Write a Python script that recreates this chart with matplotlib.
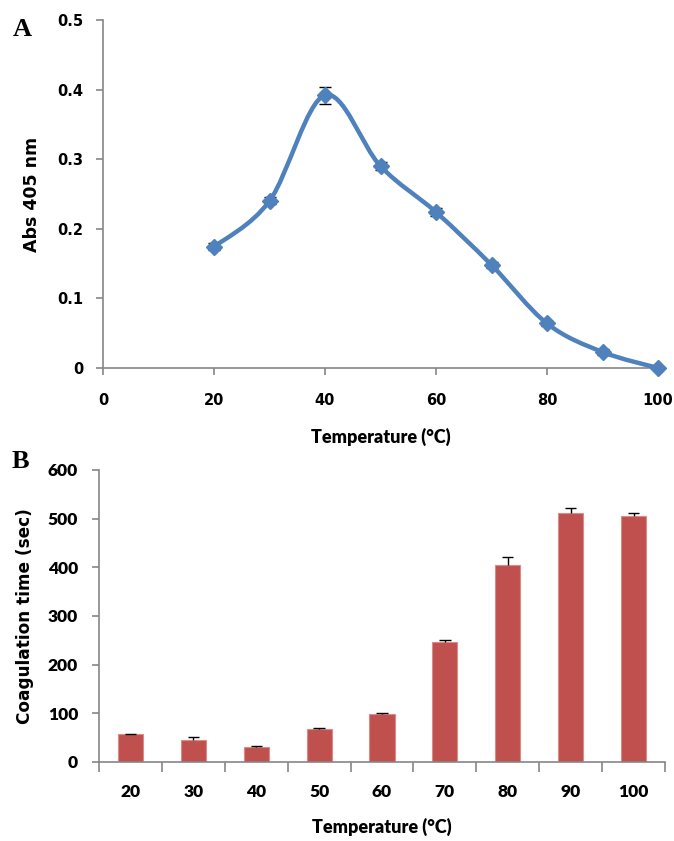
import numpy as np
import matplotlib
matplotlib.use("Agg")
import matplotlib.pyplot as plt
from matplotlib.path import Path
from matplotlib.patches import PathPatch

# Panel A: enzyme activity vs temperature
temp_a = [20, 30, 40, 50, 60, 70, 80, 90, 100]
abs405 = [0.174, 0.240, 0.392, 0.290, 0.224, 0.148, 0.064, 0.023, 0.0]
abs_err = [0.005, 0.005, 0.012, 0.006, 0.006, 0.005, 0.004, 0.004, 0.003]

# Panel B: coagulation time vs temperature
temp_b = ["20", "30", "40", "50", "60", "70", "80", "90", "100"]
coag = [57, 46, 31, 68, 99, 246, 404, 511, 505]
coag_err = [1, 5, 2, 1, 2, 4, 17, 11, 7]
coag_ticks = [0, 100, 200, 300, 400, 500, 600]

LINE_BLUE = "#4F81BD"
BAR_RED = "#C0504D"
AXIS_GRAY = "#868686"

fig = plt.figure(figsize=(6.74, 8.41), dpi=100)


def style_axes(ax):
    for s in ("top", "right"):
        ax.spines[s].set_visible(False)
    for s in ("left", "bottom"):
        ax.spines[s].set_color(AXIS_GRAY)
        ax.spines[s].set_linewidth(1.2)
    ax.tick_params(direction="out", color=AXIS_GRAY, width=1.2, length=5)


def smooth_path(xs, ys, tension=1 / 6):
    """Cubic Bezier path through the points (Catmull-Rom style smoothing)."""
    pts = np.column_stack([xs, ys]).astype(float)
    n = len(pts)
    verts = [pts[0]]
    codes = [Path.MOVETO]
    for i in range(n - 1):
        p0 = pts[i - 1] if i > 0 else pts[i]
        p1 = pts[i]
        p2 = pts[i + 1]
        p3 = pts[i + 2] if i + 2 < n else pts[i + 1]
        c1 = p1 + (p2 - p0) * tension
        c2 = p2 - (p3 - p1) * tension
        verts += [c1, c2, p2]
        codes += [Path.CURVE4] * 3
    return Path(verts, codes)


# ---------------- Panel A ----------------
axA = fig.add_axes([103 / 674, 1 - 368 / 841, 555 / 674, 348 / 841])
style_axes(axA)
axA.tick_params(axis="x", pad=13)
axA.tick_params(axis="y", pad=9)
axA.set_xlim(0, 100)
axA.set_ylim(0, 0.5)
tick_font_a = dict(fontfamily="DejaVu Sans", fontweight="bold", fontsize=10.5)
axA.set_xticks([0, 20, 40, 60, 80, 100])
axA.set_xticklabels(["0", "20", "40", "60", "80", "100"], **tick_font_a)
axA.set_yticks([0, 0.1, 0.2, 0.3, 0.4, 0.5])
axA.set_yticklabels(["0", "0.1", "0.2", "0.3", "0.4", "0.5"], **tick_font_a)

curve = PathPatch(smooth_path(temp_a, abs405), facecolor="none",
                  edgecolor=LINE_BLUE, linewidth=3.2, capstyle="round",
                  joinstyle="round", zorder=3)
axA.add_patch(curve)
axA.errorbar(temp_a, abs405, yerr=abs_err, fmt="none", ecolor="black",
             elinewidth=1.0, capsize=4, capthick=1.0, zorder=2)
axA.plot(temp_a, abs405, linestyle="none", marker="D", markersize=8,
         color=LINE_BLUE, zorder=4, clip_on=False)

axA.set_xlabel("Temperature (°C)", fontfamily="Lato", fontweight="heavy",
               fontsize=13, labelpad=14)
axA.set_ylabel("Abs 405 nm", fontfamily="DejaVu Sans", fontweight="bold",
               fontsize=12.5, labelpad=12)
fig.text(22 / 674, 1 - 30 / 841, "A", fontfamily="Liberation Serif",
         fontweight="bold", fontsize=19, ha="center", va="center")

# ---------------- Panel B ----------------
axB = fig.add_axes([99 / 674, 1 - 762 / 841, 566 / 674, 292 / 841])
style_axes(axB)
axB.tick_params(axis="x", which="major", length=0, pad=16)
axB.tick_params(axis="x", which="minor", direction="out", length=7,
                color=AXIS_GRAY, width=1.2)
axB.tick_params(axis="y", pad=10)

xb = np.arange(len(temp_b))
axB.bar(xb, coag, width=0.4, color=BAR_RED, edgecolor="#D98B89",
        linewidth=0.8, zorder=2)
err_top = np.array(coag) + np.array(coag_err)
axB.vlines(xb, coag, err_top, color="black", linewidth=1.0, zorder=3)
axB.hlines(err_top, xb - 0.09, xb + 0.09, color="black", linewidth=1.0,
           zorder=3)
axB.set_xlim(-0.5, len(temp_b) - 0.5)
axB.set_ylim(0, 600)

tick_font_b = dict(fontfamily="Lato", fontweight="heavy", fontsize=12.5)
axB.set_xticks(xb)
axB.set_xticklabels(temp_b, **tick_font_b)
axB.set_xticks(np.arange(-0.5, len(temp_b), 1.0), minor=True)
axB.set_yticks(coag_ticks)
axB.set_yticklabels([str(v) for v in coag_ticks], **tick_font_b)

axB.set_xlabel("Temperature (°C)", fontfamily="Lato", fontweight="heavy",
               fontsize=13, labelpad=13)
axB.set_ylabel("Coagulation time (sec)", fontfamily="DejaVu Sans",
               fontweight="bold", fontsize=12.2, labelpad=10)
fig.text(20 / 674, 1 - 462 / 841, "B", fontfamily="Liberation Serif",
         fontweight="bold", fontsize=19, ha="center", va="center")

fig.savefig("out.png", dpi=100, facecolor="white")
